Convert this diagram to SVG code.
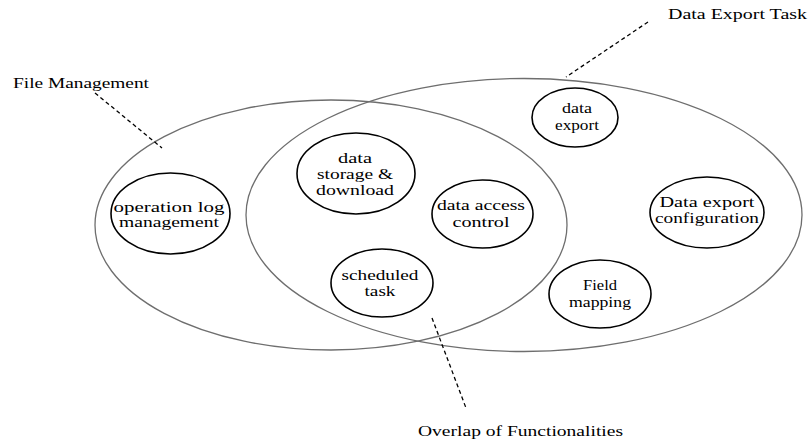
<svg xmlns="http://www.w3.org/2000/svg" width="810" height="443" viewBox="0 0 810 443">
<style>
.big{fill:none;stroke:#6e6e6e;stroke-width:1.3}
.node{fill:none;stroke:#000;stroke-width:1.6}
.lbl{font-family:"Liberation Serif","Times New Roman",serif;font-size:15px;fill:#000}
.nt{font-family:"Liberation Serif","Times New Roman",serif;font-size:15px;fill:#000;text-anchor:middle}
.dash{fill:none;stroke:#000;stroke-width:1.3;stroke-dasharray:4 3}
</style>
<rect width="810" height="443" fill="#fff"/>
<g id="file-management">
<ellipse class="big" cx="331" cy="225" rx="236" ry="125"/>
<text class="lbl" x="13" y="88" textLength="136" lengthAdjust="spacingAndGlyphs">File Management</text>
</g>
<g id="data-export-task">
<ellipse class="big" cx="524" cy="215" rx="278" ry="136.5"/>
<text class="lbl" x="668" y="19" textLength="139" lengthAdjust="spacingAndGlyphs">Data Export Task</text>
</g>
<g id="overlap">
<text class="lbl" x="418" y="436" textLength="205" lengthAdjust="spacingAndGlyphs">Overlap of Functionalities</text>
</g>
<g id="connectors">
<line class="dash" x1="95" y1="93" x2="162" y2="148"/>
<line class="dash" x1="648" y1="22" x2="566" y2="77"/>
<line class="dash" x1="432" y1="318" x2="466" y2="408"/>
</g>
<g id="operation-log-management">
<ellipse class="node" cx="170.5" cy="213.5" rx="59.5" ry="40.5"/>
<text class="nt" x="169" y="212" textLength="111" lengthAdjust="spacingAndGlyphs">operation log</text>
<text class="nt" x="169" y="227" textLength="100" lengthAdjust="spacingAndGlyphs">management</text>
</g>
<g id="data-storage-download">
<ellipse class="node" cx="356" cy="173.5" rx="59" ry="40.5"/>
<text class="nt" x="355" y="163" textLength="34" lengthAdjust="spacingAndGlyphs">data</text>
<text class="nt" x="355" y="179" textLength="76" lengthAdjust="spacingAndGlyphs">storage &amp;</text>
<text class="nt" x="355" y="195" textLength="78" lengthAdjust="spacingAndGlyphs">download</text>
</g>
<g id="data-access-control">
<ellipse class="node" cx="482.5" cy="214" rx="50.5" ry="34"/>
<text class="nt" x="481" y="210" textLength="88" lengthAdjust="spacingAndGlyphs">data access</text>
<text class="nt" x="481" y="227" textLength="57" lengthAdjust="spacingAndGlyphs">control</text>
</g>
<g id="scheduled-task">
<ellipse class="node" cx="382" cy="283" rx="51" ry="34"/>
<text class="nt" x="380" y="280" textLength="77" lengthAdjust="spacingAndGlyphs">scheduled</text>
<text class="nt" x="380" y="296" textLength="31" lengthAdjust="spacingAndGlyphs">task</text>
</g>
<g id="data-export">
<ellipse class="node" cx="575" cy="117.5" rx="43" ry="29.5"/>
<text class="nt" x="577" y="113" textLength="30" lengthAdjust="spacingAndGlyphs">data</text>
<text class="nt" x="577" y="130" textLength="44" lengthAdjust="spacingAndGlyphs">export</text>
</g>
<g id="data-export-configuration">
<ellipse class="node" cx="707" cy="212.5" rx="57" ry="35.5"/>
<text class="nt" x="707" y="207" textLength="95" lengthAdjust="spacingAndGlyphs">Data export</text>
<text class="nt" x="707" y="223" textLength="104" lengthAdjust="spacingAndGlyphs">configuration</text>
</g>
<g id="field-mapping">
<ellipse class="node" cx="600" cy="294" rx="51" ry="34"/>
<text class="nt" x="600" y="290" textLength="34" lengthAdjust="spacingAndGlyphs">Field</text>
<text class="nt" x="600" y="307" textLength="62" lengthAdjust="spacingAndGlyphs">mapping</text>
</g>
</svg>
